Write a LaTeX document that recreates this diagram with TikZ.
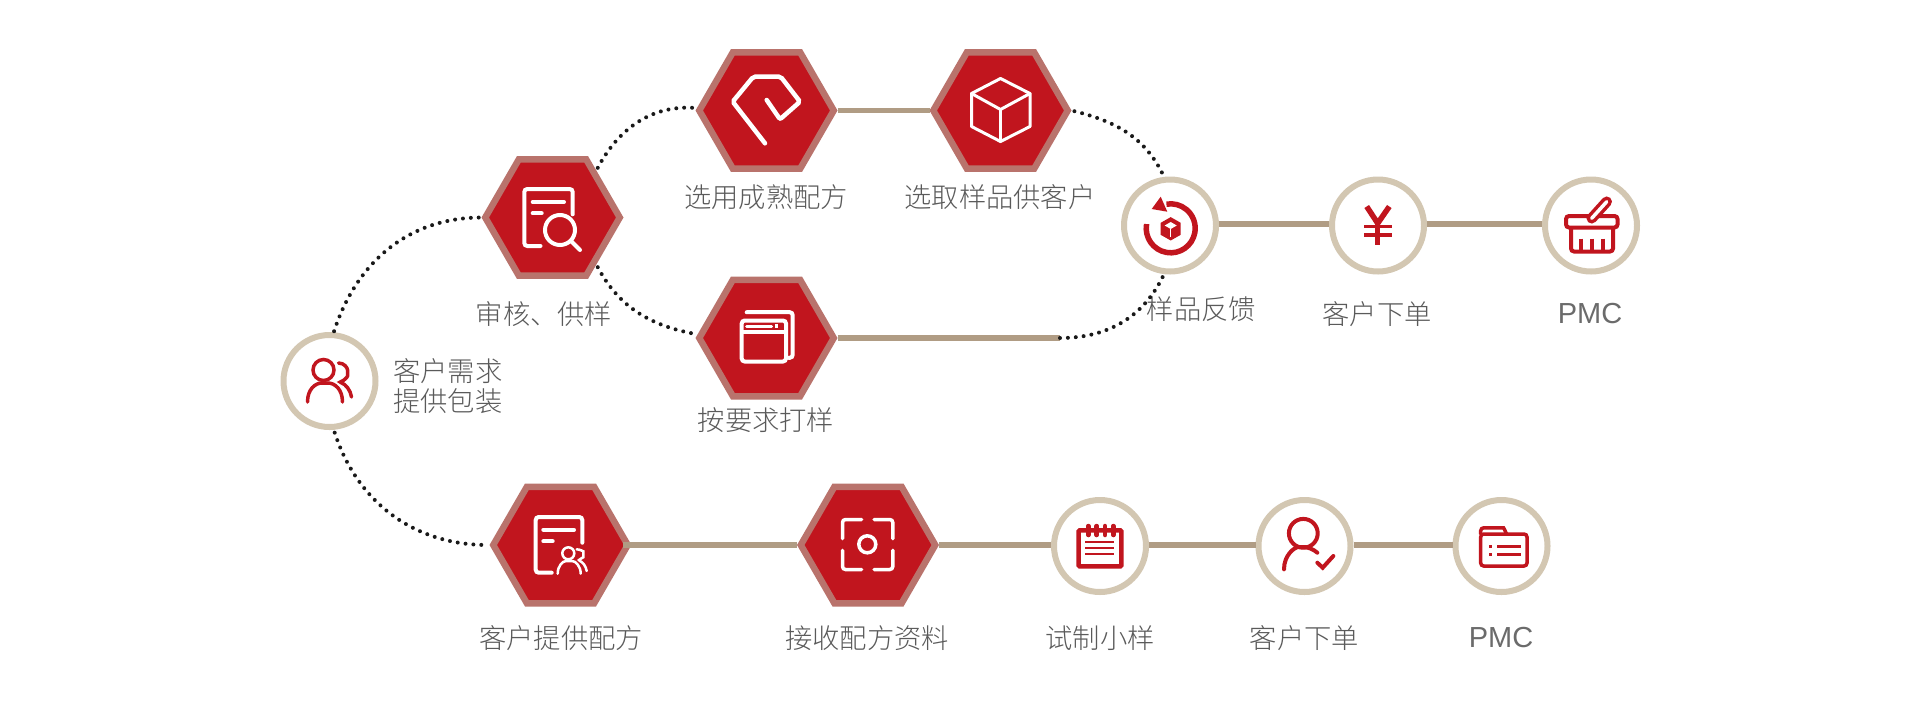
\documentclass[tikz,border=0pt]{standalone}
\usepackage{fontspec}
\setmainfont[UprightFont=* Light]{Noto Sans CJK SC}
\newfontfamily\latinfont{Liberation Sans}
\usetikzlibrary{shapes.geometric}
\definecolor{hexred}{HTML}{C1151E}
\definecolor{hexrim}{HTML}{B9736C}
\definecolor{ringtan}{HTML}{D3C7B2}
\definecolor{linetan}{HTML}{B09C84}
\definecolor{lblgray}{HTML}{5A5A5A}
\begin{document}
\begin{tikzpicture}[x=1pt,y=-1pt,
	hexnode/.style={regular polygon,regular polygon sides=6,minimum size=134.5pt,inner sep=0pt,draw=hexrim,fill=hexred,line width=6.5pt},
	ringnode/.style={circle,minimum size=92pt,inner sep=0pt,draw=ringtan,fill=white,line width=6pt},
	lbl/.style={text=lblgray,font=\fontsize{27.3}{30}\selectfont,inner sep=0pt},
	pmclbl/.style={text=lblgray!90,font=\latinfont\fontsize{29}{30}\selectfont,inner sep=0pt},
	tanline/.style={draw=linetan,line width=6pt},
	dotline/.style={line width=4pt,line cap=round,dash pattern=on 0pt off 7.9pt,draw=black!90,shorten <=3pt},
	iconw/.style={draw=white,line width=4pt,line cap=round,rounded corners=3pt},
	iconr/.style={draw=hexred,line width=4pt,line cap=round,rounded corners=3pt}]
\useasboundingbox (0,0) rectangle (1921,721);
\node[ringnode] (need) at (329.5,381) {};
\node[hexnode] (review) at (552.5,217.5) {};
\node[hexnode] (mature) at (766.5,110.5) {};
\node[hexnode] (choose) at (1000.5,110.5) {};
\node[hexnode] (onreq) at (766.5,338) {};
\node[ringnode] (feedback) at (1170,225.5) {};
\node[ringnode] (yen) at (1378,225.5) {};
\node[ringnode] (basket) at (1591,225.5) {};
\node[hexnode] (supply) at (560.5,545) {};
\node[hexnode] (receive) at (868,545) {};
\node[ringnode] (trial) at (1100,546) {};
\node[ringnode] (order) at (1304.5,546) {};
\node[ringnode] (pmc) at (1501.5,546) {};
\coordinate (bend) at (1060,338);

\node[lbl,align=left,anchor=west] (needlbl) at (393,386) {客户需求\\提供包装};
\node[lbl] (reviewlbl) at (544,314) {审核、供样};
\node[lbl] (maturelbl) at (766,197) {选用成熟配方};
\node[lbl] (chooselbl) at (1000,197) {选取样品供客户};
\node[lbl] (onreqlbl) at (766,420) {按要求打样};
\node[lbl] (feedbacklbl) at (1201.5,309) {样品反馈};
\node[lbl] (yenlbl) at (1377,314) {客户下单};
\node[pmclbl] (basketlbl) at (1590,314) {PMC};
\node[lbl] (supplylbl) at (561,638) {客户提供配方};
\node[lbl] (receivelbl) at (867,638) {接收配方资料};
\node[lbl] (triallbl) at (1100,638) {试制小样};
\node[lbl] (orderlbl) at (1304.5,638) {客户下单};
\node[pmclbl] (pmclbl) at (1501,638) {PMC};

\draw[tanline,line width=5pt] (mature.east) -- (choose.west);
\draw[tanline] (onreq.east) -- (bend);
\draw[tanline] ([yshift=2pt]feedback.east) -- ([yshift=2pt]yen.west);
\draw[tanline] ([yshift=2pt]yen.east) -- ([yshift=2pt]basket.west);
\draw[tanline,shorten <=-9pt] (supply.east) -- (receive.west);
\draw[tanline] (receive.east) -- ([yshift=1pt]trial.west);
\draw[tanline] ([yshift=1pt]trial.east) -- ([yshift=1pt]order.west);
\draw[tanline] ([yshift=1pt]order.east) -- ([yshift=1pt]pmc.west);

\draw[dotline,shorten <=1pt] (need.85) to[out=72,in=180] (review.west);
\draw[dotline,shorten >=2pt] (need.-85) to[out=-72,in=180] (supply.west);
\draw[dotline] (review.47) to[out=62,in=175] (mature.178);
\draw[dotline] (review.-47) to[out=-62,in=170] (onreq.177);
\draw[dotline] (choose.east) to[out=-14,in=115] (feedback.97);
\draw[dotline,shorten <=0pt] (bend) to[out=0,in=-115] (feedback.-97);

% need
\begin{scope}[shift={(need)}]
\draw[iconr,line width=3.5pt] (-6,-11) circle (10.5);
\draw[iconr,line width=3.5pt] (-22,21) .. controls (-22,8) and (-14,2) .. (-4.5,2) .. controls (5,2) and (13,8) .. (13,21);
\draw[iconr,line width=3.5pt] (9,-18) .. controls (15,-18) and (18,-13) .. (18,-8) .. controls (18,-4) and (14,0) .. (9,1) .. controls (16,3) and (21,9) .. (22,16);
\end{scope}
% review
\begin{scope}[shift={(review)}]
\draw[iconw] (-12,28.5) -- (-28.2,28.5) -- (-28.2,-28.5) -- (20.2,-28.5) -- (20.2,-3.2);
\draw[iconw] (-19.8,-15.5) -- (11.5,-15.5);
\draw[iconw] (-19.8,-4.2) -- (-10.8,-4.2);
\draw[iconw] (7.5,12.5) circle (15);
\draw[iconw] (19.2,24.2) -- (27.5,32.5);
\end{scope}
% mature
\begin{scope}[shift={(mature)}]
\draw[iconw,line width=4.5pt,rounded corners=2pt] (-1.5,32.8) -- (-33.8,-8.8) -- (-13.2,-33.8) -- (14.2,-33.8) -- (33.5,-8.8) -- (13.5,8.8) -- (0.2,-10.5);
\end{scope}
% choose
\begin{scope}[shift={(choose)}]
\draw[iconw,line width=3pt,line join=round,rounded corners=0pt] (0,-32) -- (29.5,-17) -- (29.5,16) -- (0,31) -- (-29,16) -- (-29,-17) -- cycle;
\draw[iconw,line width=3pt,line join=round,rounded corners=0pt] (-29,-17) -- (0,-1) -- (29.5,-17);
\draw[iconw,line width=3pt] (0,-1) -- (0,31);
\end{scope}
% onreq
\begin{scope}[shift={(onreq)}]
\draw[iconw] (-19.8,-25.8) -- (26.2,-25.8) -- (26.2,19.8) -- (22,19.8);
\draw[iconw,fill=hexred] (-24.8,-17.5) rectangle (19.5,23.5);
\draw[iconw,rounded corners=0pt,line cap=butt] (-24.8,-5.8) -- (19.5,-5.8);
\draw[iconw,line width=3pt] (-19.8,-11.8) -- (5.2,-11.8);
\fill[white] (8.2,-13.8) rectangle (11.8,-10.2);
\end{scope}
% feedback
\begin{scope}[shift={(feedback)}]
\draw[draw=hexred,line width=5.5pt] (0.7,2.8) ++(-170:24.5) arc (-170:-460:24.5);
\fill[hexred] (-9.3,-28.8) -- (-18.3,-16.5) -- (-2.7,-13.8) -- cycle;
\fill[hexred] (0.7,-8.4) -- (10.7,-2.7) -- (10.7,9.3) -- (0.7,15) -- (-9.3,9.3) -- (-9.3,-2.7) -- cycle;
\fill[white] (0.7,-3.5) -- (6.7,0) -- (0.7,3.5) -- (-5.3,0) -- cycle;
\draw[white,line width=1.5pt] (0.7,3.5) -- (0.7,11);
\end{scope}
% yen
\begin{scope}[shift={(yen)}]
\draw[draw=hexred,line width=5.5pt] (-11.3,-19) -- (-0.3,-2.2) -- (11.3,-19);
\draw[draw=hexred,line width=5.5pt] (-0.3,-2.2) -- (-0.3,19.5);
\draw[draw=hexred,line width=3.5pt] (-14,1.2) -- (13.7,1.2);
\draw[draw=hexred,line width=3.5pt] (-14,9.5) -- (13.7,9.5);
\end{scope}
% basket
\begin{scope}[shift={(basket)}]
\draw[iconr] (-25,-9.5) rectangle (26.5,2);
\draw[iconr] (-20,3.5) -- (-20,26) -- (22,26) -- (22,3.5);
\foreach \tx in {-10.3,0.7,11.7}
	\draw[iconr,line cap=butt] (\tx,13) -- (\tx,26);
\draw[draw=hexred,line width=10.5pt,line cap=round] (0.7,-7.2) -- (15.7,-23.8);
\draw[draw=white,line width=3.5pt,line cap=round] (0.7,-7.2) -- (15.7,-23.8);
\end{scope}
% supply
\begin{scope}[shift={(supply)}]
\draw[iconw] (-8.8,27.7) -- (-24.8,27.7) -- (-24.8,-28) -- (21.8,-28) -- (21.8,-2.3);
\draw[iconw] (-17.2,-15.3) -- (13.5,-15.3);
\draw[iconw] (-17.2,-3.7) -- (-7.8,-3.7);
\draw[iconw,line width=2.5pt] (7.8,8.3) circle (6);
\draw[iconw,line width=2.5pt] (-2.8,28.7) .. controls (-2.8,21) and (2,16) .. (8.7,16) .. controls (15,16) and (20.2,21) .. (20.2,28.7);
\draw[iconw,line width=2.5pt] (16.2,4.3) .. controls (20,4.5) and (22.8,6.5) .. (22.8,9.3) .. controls (22.8,12) and (20,14) .. (16.8,15) .. controls (22,17) and (25.5,21) .. (26.2,26);
\end{scope}
% receive
\begin{scope}[shift={(receive)}]
\draw[iconw,line width=3.5pt] (-25.5,-6.3) -- (-25.5,-25.5) -- (-6.3,-25.5);
\draw[iconw,line width=3.5pt] (6,-25.5) -- (24.8,-25.5) -- (24.8,-6.3);
\draw[iconw,line width=3.5pt] (24.8,5.3) -- (24.8,24.5) -- (6,24.5);
\draw[iconw,line width=3.5pt] (-6.3,24.5) -- (-25.5,24.5) -- (-25.5,5.3);
\draw[iconw,line width=3.5pt] (-0.7,-0.7) circle (8.5);
\end{scope}
% trial
\begin{scope}[shift={(trial)}]
\draw[iconr,line width=4.5pt,rounded corners=1pt] (-21.3,-15.7) rectangle (21.3,20.3);
\foreach \rx in {-11.7,-3.3,5,13.3}
	\draw[iconr,line width=4.5pt] (\rx,-20) -- (\rx,-11);
\foreach \ry in {-4,2.3,7.7}
	\draw[iconr,line width=2pt,line cap=butt] (-15,\ry) -- (14,\ry);
\end{scope}
% order
\begin{scope}[shift={(order)}]
\draw[iconr] (-1.2,-12.7) circle (14.4);
\draw[iconr] (-20.5,23.3) .. controls (-20.5,9) and (-10,1) .. (-2.8,1) .. controls (2,1) and (9,3) .. (12.8,6.7);
\draw[iconr,rounded corners=0pt] (12.8,16.7) -- (18.2,21.7) -- (28.8,10);
\end{scope}
% pmc
\begin{scope}[shift={(pmc)}]
\draw[iconr,line width=3.5pt] (-20.8,-12) rectangle (25.5,20);
\draw[iconr,line width=3.5pt] (-20.8,-12) -- (-20.8,-18.2) -- (-1,-18.2) .. controls (2,-18.2) and (4,-15) .. (5,-12);
\foreach \ly in {0.3,8.7} {
	\draw[iconr,line width=3pt,line cap=butt] (-12.3,\ly) -- (-9.3,\ly);
	\draw[iconr,line width=3pt,line cap=butt] (-4.2,\ly) -- (19.5,\ly);
}
\end{scope}
\end{tikzpicture}
\end{document}
